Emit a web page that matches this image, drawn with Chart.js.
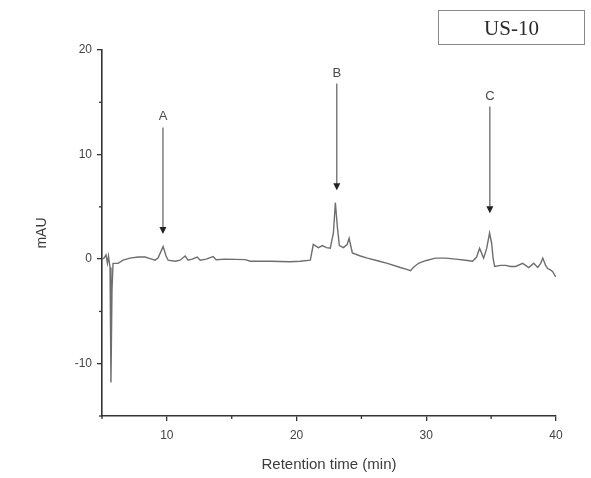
<!DOCTYPE html>
<html><head><meta charset="utf-8">
<script src="https://cdn.jsdelivr.net/npm/chart.js@4"></script>
<style>
html,body{margin:0;padding:0;background:#fff;}
#wrap{position:relative;width:591px;height:478px;}
#tag{position:absolute;left:438px;top:10px;width:147px;height:35px;border:1px solid #8a8a8a;font-family:'Liberation Serif','Times New Roman',serif;font-size:21px;color:#2a2a2a;text-align:center;line-height:35px;box-sizing:border-box;}
</style>
</head><body>
<div id="wrap"><canvas id="c"></canvas><div id="tag">US-10</div></div>
<script>
// Retention time (min) and detector signal (mAU)
const retentionTime = [5.0,5.15,5.31,5.42,5.5,5.62,5.69,5.77,5.85,6.24,6.62,7.16,7.78,8.32,8.71,9.09,9.32,9.71,9.94,10.1,10.64,11.02,11.41,11.64,11.95,12.34,12.57,13.03,13.57,13.8,14.5,16.04,16.43,17.97,19.5,20.29,21.06,21.29,21.68,21.99,22.3,22.6,22.84,22.99,23.15,23.3,23.61,23.9,24.05,24.3,24.92,25.46,26.24,27.0,28.0,28.55,28.78,29.0,29.4,29.94,30.7,31.5,32.26,33.03,33.57,33.88,34.11,34.42,34.65,34.88,35.04,35.15,35.27,35.73,36.12,36.5,36.89,37.43,37.9,38.28,38.59,38.82,38.98,39.2,39.36,39.6,39.75,39.98];
const signal = [0.0,0.1,0.4,-0.4,0.3,-0.8,-11.8,-3.0,-0.4,-0.4,-0.1,0.1,0.2,0.2,0.05,-0.1,0.1,1.2,0.3,-0.1,-0.2,-0.1,0.3,-0.1,0.0,0.2,-0.1,0.0,0.25,-0.05,0.0,-0.05,-0.2,-0.2,-0.25,-0.2,-0.1,1.4,1.1,1.3,1.1,1.05,2.5,5.4,3.0,1.3,1.1,1.4,2.0,0.6,0.3,0.1,-0.15,-0.4,-0.8,-1.0,-1.1,-0.8,-0.4,-0.15,0.1,0.1,0.0,-0.1,-0.2,0.2,1.05,0.1,1.0,2.5,1.5,0.1,-0.7,-0.6,-0.6,-0.7,-0.7,-0.4,-0.8,-0.4,-0.8,-0.4,0.1,-0.6,-0.9,-1.05,-1.2,-1.7];

// Peak annotations
const peakLabels = ['A','B','C'];
const peakTimes = [9.7,23.1,34.9];
const arrowTops = [12.6,16.8,14.6];
const arrowTips = [2.4,6.6,4.4];

// Tick labels (major) and minor tick positions
const xTickLabels = [10,20,30,40];
const yTickLabels = [-10,0,10,20];
const xMinorTicks = [5,15,25,35];
const yMinorTicks = [-15,-5,5,15];

const points = retentionTime.map((t,i)=>({x:t,y:signal[i]}));

const arrowPlugin = {
  id:'arrows',
  afterDraw(chart){
    const {ctx, scales:{x,y}, chartArea} = chart;
    ctx.save();
    // minor ticks (shorter)
    ctx.strokeStyle='#333';
    ctx.lineWidth=1.3;
    xMinorTicks.forEach(v=>{
      const px=x.getPixelForValue(v);
      ctx.beginPath();ctx.moveTo(px,chartArea.bottom);ctx.lineTo(px,chartArea.bottom+3);ctx.stroke();
    });
    yMinorTicks.forEach(v=>{
      const py=y.getPixelForValue(v);
      ctx.beginPath();ctx.moveTo(chartArea.left,py);ctx.lineTo(chartArea.left-3,py);ctx.stroke();
    });
    peakLabels.forEach((lab,i)=>{
      const px = x.getPixelForValue(peakTimes[i]);
      const top = y.getPixelForValue(arrowTops[i]);
      const tip = y.getPixelForValue(arrowTips[i]);
      ctx.strokeStyle='#6a6a6a';
      ctx.lineWidth=1.3;
      ctx.beginPath();
      ctx.moveTo(px,top);
      ctx.lineTo(px,tip-4);
      ctx.stroke();
      ctx.fillStyle='#222';
      ctx.beginPath();
      ctx.moveTo(px-3.5,tip-7);
      ctx.lineTo(px+3.5,tip-7);
      ctx.lineTo(px,tip);
      ctx.closePath();
      ctx.fill();
      ctx.fillStyle='#4a4a4a';
      ctx.font='13px "Liberation Sans", Arial, sans-serif';
      ctx.textAlign='center';
      ctx.textBaseline='bottom';
      ctx.fillText(lab,px,top-4);
    });
    ctx.restore();
  }
};

const majorColor = c => (c.tick && (c.tick.value % 10 === 0)) ? '#333' : 'rgba(0,0,0,0)';

new Chart(document.getElementById('c'),{
  type:'line',
  data:{datasets:[{data:points,borderColor:'#6e6e6e',borderWidth:1.4,pointRadius:0,tension:0,fill:false}]},
  options:{
    responsive:true,maintainAspectRatio:false,animation:false,
    layout:{padding:{left:30,top:50,right:35,bottom:0}},
    plugins:{legend:{display:false},tooltip:{enabled:false}},
    scales:{
      x:{type:'linear',min:5,max:40,
        afterFit(s){s.height=62;},
        ticks:{stepSize:5,autoSkip:false,maxRotation:0,padding:7,color:'#444',font:{family:'"Liberation Sans", Arial, sans-serif',size:12},
          callback:v=>xTickLabels.includes(v)?String(v):''},
        grid:{display:true,drawOnChartArea:false,drawTicks:true,tickLength:5,color:majorColor,tickColor:majorColor,lineWidth:1.3},
        border:{display:true,color:'#333',width:1.6},
        title:{display:true,text:'Retention time (min)',color:'#3c3c3c',font:{family:'"Liberation Sans", Arial, sans-serif',size:15},padding:{top:4,bottom:4}}
      },
      y:{min:-15,max:20,
        afterFit(s){s.width=72;},
        ticks:{stepSize:5,autoSkip:false,padding:5,color:'#444',font:{family:'"Liberation Sans", Arial, sans-serif',size:12},
          callback:v=>yTickLabels.includes(v)?String(v):''},
        grid:{display:true,drawOnChartArea:false,drawTicks:true,tickLength:5,color:majorColor,tickColor:majorColor,lineWidth:1.3},
        border:{display:true,color:'#333',width:1.6},
        title:{display:true,text:'mAU',color:'#3c3c3c',font:{family:'"Liberation Sans", Arial, sans-serif',size:14},padding:{top:4,bottom:4}}
      }
    }
  },
  plugins:[arrowPlugin]
});
</script>
</body></html>
